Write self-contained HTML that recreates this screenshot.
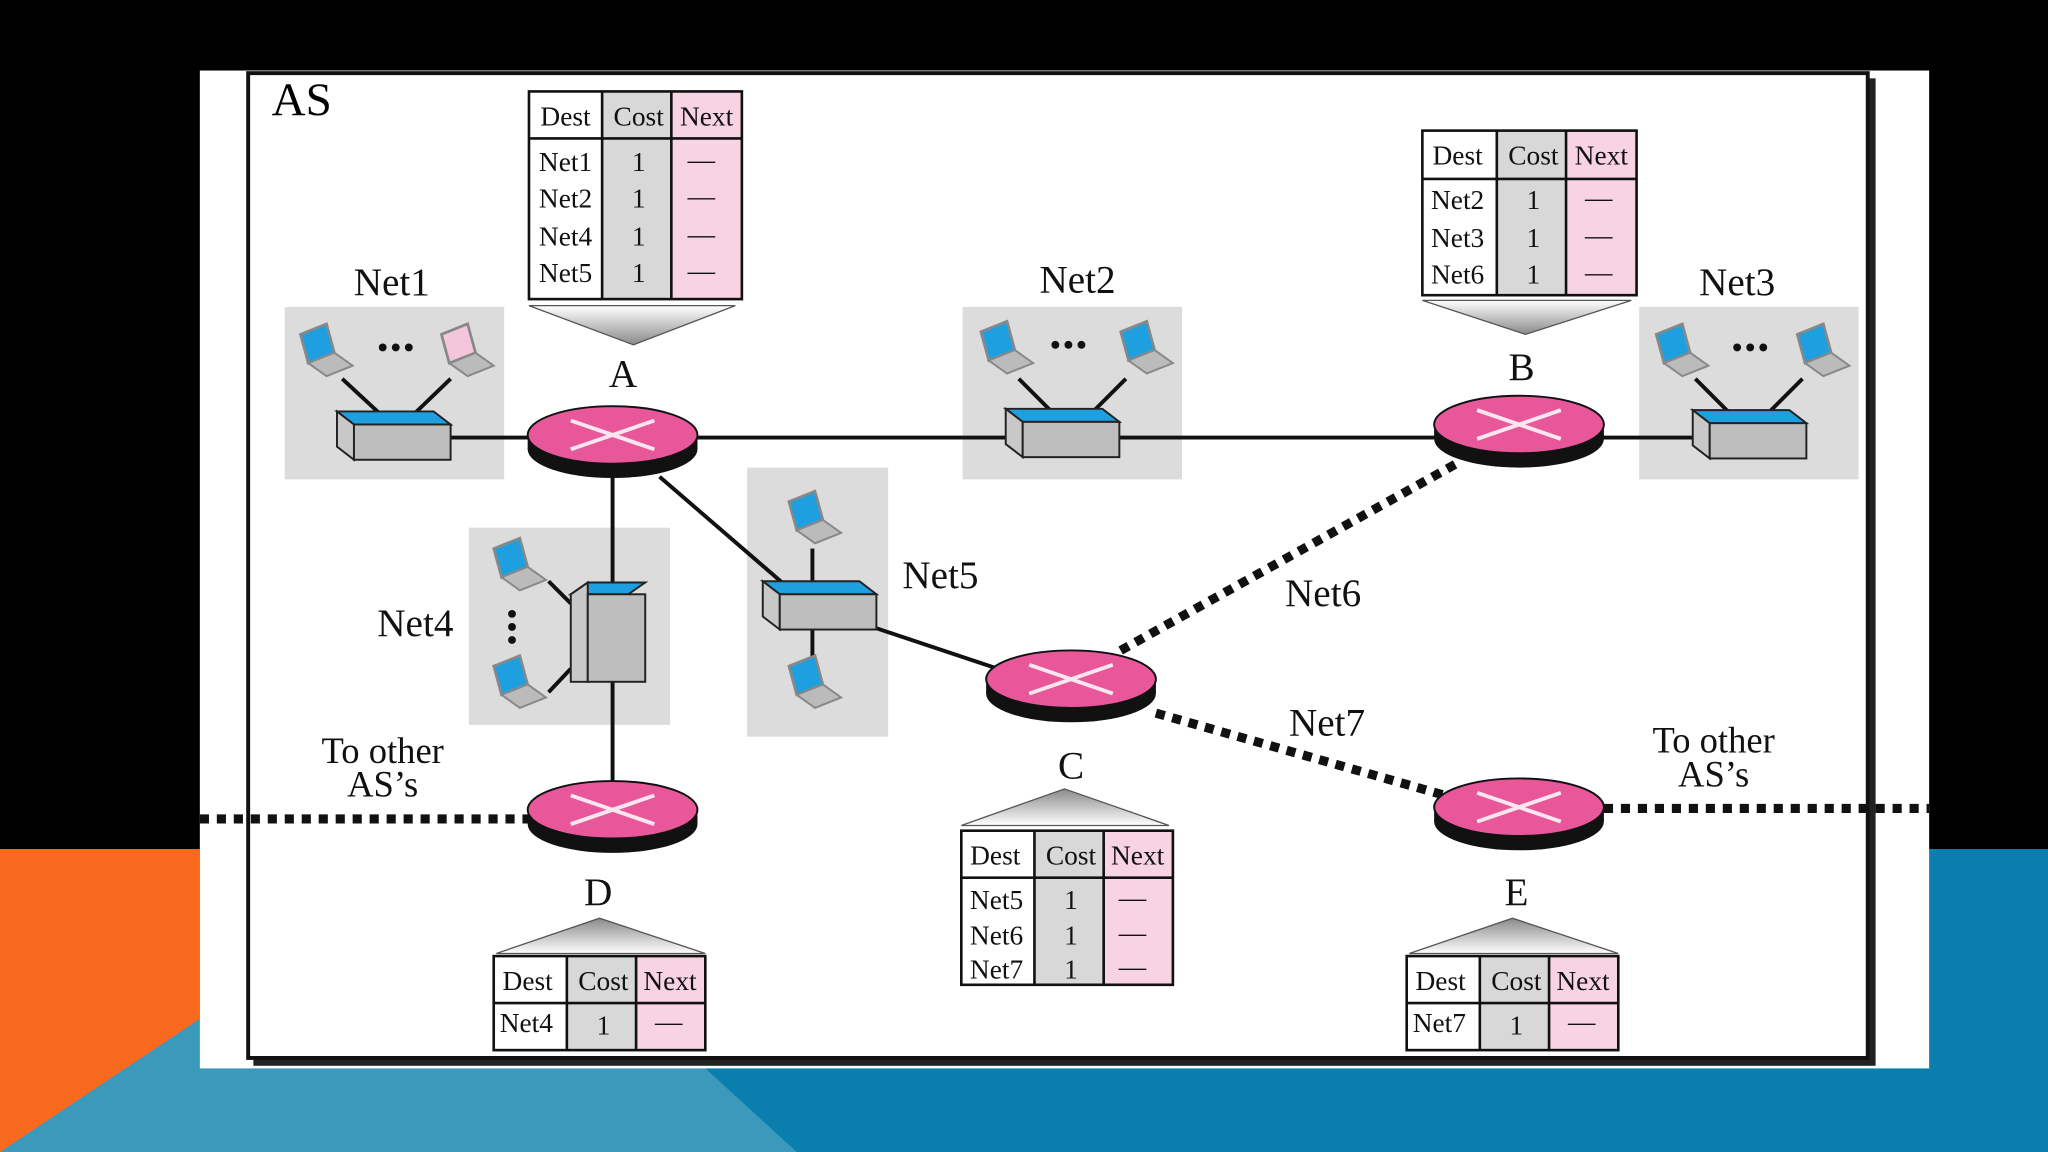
<!DOCTYPE html>
<html><head><meta charset="utf-8"><style>html,body{margin:0;padding:0;background:#000;overflow:hidden}svg{display:block}</style></head><body>
<svg width="2048" height="1152" viewBox="0 0 1568 882" xmlns="http://www.w3.org/2000/svg" font-family="'Liberation Serif', serif">
<defs>
<linearGradient id="tg" x1="0" y1="0" x2="0" y2="1"><stop offset="0" stop-color="#fff"/><stop offset="1" stop-color="#8a8a8a"/></linearGradient>
<linearGradient id="tgu" x1="0" y1="1" x2="0" y2="0"><stop offset="0" stop-color="#fff"/><stop offset="1" stop-color="#8a8a8a"/></linearGradient>
<g id="router">
<ellipse cx="0" cy="11" rx="65" ry="22" fill="#111"/>
<rect x="-65" y="0" width="130" height="11" fill="#111"/>
<ellipse cx="0" cy="0" rx="65" ry="22" fill="#e8579a" stroke="#111" stroke-width="1.5"/>
<line x1="-32" y1="-11" x2="32" y2="11" stroke="#fbe6ef" stroke-width="3"/>
<line x1="-32" y1="11" x2="32" y2="-11" stroke="#fbe6ef" stroke-width="3"/>
</g>
<g id="sw">
<polygon points="0,0 74,0 87,10 13,10" fill="#1ea0e0" stroke="#222" stroke-width="1.5"/>
<polygon points="0,0 13,10 13,37 0,27" fill="#c8c8c8" stroke="#222" stroke-width="1.5"/>
<rect x="13" y="10" width="74" height="27" fill="#bdbdbd" stroke="#222" stroke-width="1.5"/>
</g>
<g id="lap">
<polygon points="6,2 26,-6 32,16 12,24" fill="#1ea0e0" stroke="#888" stroke-width="2"/>
<polygon points="12,24 32,16 46,26 26,34" fill="#bbb" stroke="#888" stroke-width="1.5"/>
</g>
</defs>
<!-- background -->
<rect width="1568" height="882" fill="#000"/>
<polygon points="0,650 153,650 153,882 0,882" fill="#f96a1e"/>
<rect x="153" y="650" width="1415" height="232" fill="#0a7fae"/>
<polygon points="0,882 153,780 153,818 540,818 610,882" fill="#3b99bb"/>
<rect x="153" y="54" width="1324" height="764" fill="#fff"/>
<!-- frame -->
<rect x="194" y="60" width="1242" height="756" fill="#222"/>
<rect x="190" y="56" width="1240" height="754" fill="#fff" stroke="#111" stroke-width="3"/>
<text x="208" y="88" font-size="36">AS</text>
<!-- net boxes -->
<g fill="#dcdcdc">
<rect x="218" y="235" width="168" height="132"/>
<rect x="737" y="235" width="168" height="132"/>
<rect x="1255" y="235" width="168" height="132"/>
<rect x="359" y="404" width="154" height="151"/>
<rect x="572" y="358" width="108" height="206"/>
</g>
<!-- solid links -->
<g stroke="#111" stroke-width="3" fill="none">
<line x1="345" y1="335" x2="420" y2="335"/>
<line x1="520" y1="335" x2="1110" y2="335"/>
<line x1="1215" y1="335" x2="1300" y2="335"/>
<line x1="469" y1="350" x2="469" y2="610"/>
<line x1="505" y1="365" x2="600" y2="447"/>
<line x1="668" y1="480" x2="770" y2="514"/>
<line x1="262" y1="290" x2="290" y2="316"/><line x1="345" y1="290" x2="318" y2="316"/>
<line x1="780" y1="290" x2="806" y2="316"/><line x1="862" y1="290" x2="836" y2="316"/>
<line x1="1298" y1="290" x2="1324" y2="316"/><line x1="1380" y1="290" x2="1354" y2="316"/>
<line x1="622" y1="420" x2="622" y2="446"/><line x1="622" y1="482" x2="622" y2="508"/>
<line x1="420" y1="445" x2="437" y2="462"/><line x1="420" y1="530" x2="437" y2="512"/>
</g>
<!-- dotted links -->
<g stroke="#111" stroke-width="7" stroke-dasharray="7,6" fill="none">
<line x1="858" y1="498" x2="1115" y2="355"/>
<line x1="885" y1="546" x2="1110" y2="610"/>
<line x1="153" y1="627" x2="405" y2="627"/>
<line x1="1228" y1="619" x2="1477" y2="619"/>
</g>
<!-- switches -->
<use href="#sw" x="258" y="315"/>
<use href="#sw" x="770" y="313"/>
<use href="#sw" x="1296" y="314"/>
<use href="#sw" x="584" y="445"/>
<g stroke="#222" stroke-width="1.5">
<polygon points="437,455 450,446 494,446 481,455" fill="#1ea0e0"/>
<polygon points="437,455 450,446 450,522 437,522" fill="#c8c8c8"/>
<rect x="450" y="455" width="44" height="67" fill="#bdbdbd"/>
</g>
<!-- laptops -->
<use href="#lap" x="224" y="254"/>
<use href="#lap" x="332" y="254"/>
<use href="#lap" x="745" y="252"/>
<use href="#lap" x="852" y="252"/>
<use href="#lap" x="1262" y="254"/>
<use href="#lap" x="1370" y="254"/>
<use href="#lap" x="598" y="382"/>
<use href="#lap" x="598" y="508"/>
<use href="#lap" x="372" y="418"/>
<use href="#lap" x="372" y="508"/>
<polygon points="338,256 358,248 364,270 344,278" fill="#f3c6dc" stroke="#888" stroke-width="2"/>
<g fill="#111">
<circle cx="293" cy="266" r="3"/><circle cx="303" cy="266" r="3"/><circle cx="313" cy="266" r="3"/>
<circle cx="808" cy="264" r="3"/><circle cx="818" cy="264" r="3"/><circle cx="828" cy="264" r="3"/>
<circle cx="1330" cy="266" r="3"/><circle cx="1340" cy="266" r="3"/><circle cx="1350" cy="266" r="3"/>
<circle cx="392" cy="470" r="3"/><circle cx="392" cy="480" r="3"/><circle cx="392" cy="490" r="3"/>
</g>
<!-- routers -->
<use href="#router" x="469" y="333"/>
<use href="#router" x="1163" y="325"/>
<use href="#router" x="820" y="520"/>
<use href="#router" x="469" y="620"/>
<use href="#router" x="1163" y="618"/>
<!-- labels -->
<g font-size="30" text-anchor="middle" fill="#111">
<text x="300" y="226">Net1</text>
<text x="825" y="224">Net2</text>
<text x="1330" y="226">Net3</text>
<text x="477" y="296">A</text>
<text x="1165" y="291">B</text>
<text x="720" y="450">Net5</text>
<text x="318" y="487">Net4</text>
<text x="1013" y="464">Net6</text>
<text x="1016" y="563">Net7</text>
<text x="820" y="596">C</text>
<text x="458" y="693">D</text>
<text x="1161" y="693">E</text>
<text x="293" y="584" font-size="28">To other</text>
<text x="293" y="610" font-size="28">AS’s</text>
<text x="1312" y="576" font-size="28">To other</text>
<text x="1312" y="602" font-size="28">AS’s</text>
</g>
<!-- triangles -->
<polygon points="405,234 563,234 485,264" fill="url(#tg)" stroke="#555" stroke-width="1"/>
<polygon points="1089,230 1249,230 1168,256" fill="url(#tg)" stroke="#555" stroke-width="1"/>
<polygon points="736,632 895,632 815,604" fill="url(#tgu)" stroke="#555" stroke-width="1"/>
<polygon points="380,730 540,730 459,703" fill="url(#tgu)" stroke="#555" stroke-width="1"/>
<polygon points="1079,730 1239,730 1158,703" fill="url(#tgu)" stroke="#555" stroke-width="1"/>
<!-- tables -->
<g font-size="21" text-anchor="middle" fill="#111">
<!-- A -->
<rect x="405" y="70" width="56" height="159" fill="#fff"/><rect x="461" y="70" width="53" height="159" fill="#d8d8d8"/><rect x="514" y="70" width="54" height="159" fill="#f7d3e3"/>
<g stroke="#111" stroke-width="2" fill="none"><rect x="405" y="70" width="163" height="159"/><line x1="405" y1="106" x2="568" y2="106"/><line x1="461" y1="70" x2="461" y2="229"/><line x1="514" y1="70" x2="514" y2="229"/></g>
<text x="433" y="96">Dest</text><text x="489" y="96">Cost</text><text x="541" y="96">Next</text>
<text x="433" y="131">Net1</text><text x="489" y="131">1</text><text x="537" y="129">—</text>
<text x="433" y="159">Net2</text><text x="489" y="159">1</text><text x="537" y="157">—</text>
<text x="433" y="188">Net4</text><text x="489" y="188">1</text><text x="537" y="186">—</text>
<text x="433" y="216">Net5</text><text x="489" y="216">1</text><text x="537" y="214">—</text>
<!-- B -->
<rect x="1089" y="100" width="57" height="126" fill="#fff"/><rect x="1146" y="100" width="53" height="126" fill="#d8d8d8"/><rect x="1199" y="100" width="54" height="126" fill="#f7d3e3"/>
<g stroke="#111" stroke-width="2" fill="none"><rect x="1089" y="100" width="164" height="126"/><line x1="1089" y1="137" x2="1253" y2="137"/><line x1="1146" y1="100" x2="1146" y2="226"/><line x1="1199" y1="100" x2="1199" y2="226"/></g>
<text x="1116" y="126">Dest</text><text x="1174" y="126">Cost</text><text x="1226" y="126">Next</text>
<text x="1116" y="160">Net2</text><text x="1174" y="160">1</text><text x="1224" y="158">—</text>
<text x="1116" y="189">Net3</text><text x="1174" y="189">1</text><text x="1224" y="187">—</text>
<text x="1116" y="217">Net6</text><text x="1174" y="217">1</text><text x="1224" y="215">—</text>
<!-- C -->
<rect x="736" y="636" width="56" height="118" fill="#fff"/><rect x="792" y="636" width="53" height="118" fill="#d8d8d8"/><rect x="845" y="636" width="53" height="118" fill="#f7d3e3"/>
<g stroke="#111" stroke-width="2" fill="none"><rect x="736" y="636" width="162" height="118"/><line x1="736" y1="672" x2="898" y2="672"/><line x1="792" y1="636" x2="792" y2="754"/><line x1="845" y1="636" x2="845" y2="754"/></g>
<text x="762" y="662">Dest</text><text x="820" y="662">Cost</text><text x="871" y="662">Next</text>
<text x="763" y="696">Net5</text><text x="820" y="696">1</text><text x="867" y="694">—</text>
<text x="763" y="723">Net6</text><text x="820" y="723">1</text><text x="867" y="721">—</text>
<text x="763" y="749">Net7</text><text x="820" y="749">1</text><text x="867" y="747">—</text>
<!-- D -->
<rect x="378" y="732" width="56" height="72" fill="#fff"/><rect x="434" y="732" width="53" height="72" fill="#d8d8d8"/><rect x="487" y="732" width="53" height="72" fill="#f7d3e3"/>
<g stroke="#111" stroke-width="2" fill="none"><rect x="378" y="732" width="162" height="72"/><line x1="378" y1="768" x2="540" y2="768"/><line x1="434" y1="732" x2="434" y2="804"/><line x1="487" y1="732" x2="487" y2="804"/></g>
<text x="404" y="758">Dest</text><text x="462" y="758">Cost</text><text x="513" y="758">Next</text>
<text x="403" y="790">Net4</text><text x="462" y="792">1</text><text x="512" y="789">—</text>
<!-- E -->
<rect x="1077" y="732" width="56" height="72" fill="#fff"/><rect x="1133" y="732" width="53" height="72" fill="#d8d8d8"/><rect x="1186" y="732" width="53" height="72" fill="#f7d3e3"/>
<g stroke="#111" stroke-width="2" fill="none"><rect x="1077" y="732" width="162" height="72"/><line x1="1077" y1="768" x2="1239" y2="768"/><line x1="1133" y1="732" x2="1133" y2="804"/><line x1="1186" y1="732" x2="1186" y2="804"/></g>
<text x="1103" y="758">Dest</text><text x="1161" y="758">Cost</text><text x="1212" y="758">Next</text>
<text x="1102" y="790">Net7</text><text x="1161" y="792">1</text><text x="1211" y="789">—</text>
</g>
</svg>
</body></html>
